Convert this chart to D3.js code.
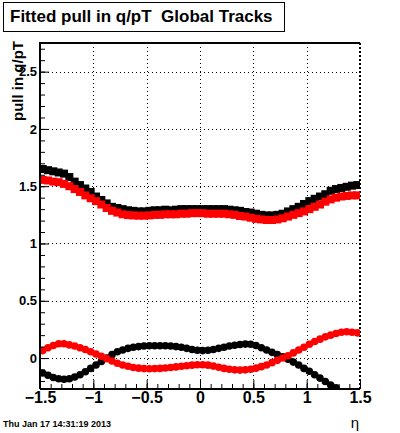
<!DOCTYPE html>
<html>
<head>
<meta charset="utf-8">
<script src="https://cdn.jsdelivr.net/npm/d3@7"></script>
<style>
  body { margin: 0; background: #fff; }
  text { font-family: "Liberation Sans", Arial, sans-serif; }
</style>
</head>
<body>
<div class="container"></div>
<script>
// eta bin centres (60 bins of 0.05 from -1.5 to 1.5)
const eta = d3.range(60).map(i => +(-1.475 + 0.05 * i).toFixed(3));

// upper curves (full squares): black and red
const meanBlack = [1.65, 1.64, 1.63, 1.62, 1.61, 1.58, 1.54, 1.51, 1.48, 1.45,
  1.41, 1.38, 1.35, 1.32, 1.31, 1.30, 1.29, 1.285, 1.28, 1.28,
  1.285, 1.29, 1.29, 1.295, 1.29, 1.295, 1.30, 1.30, 1.30, 1.30,
  1.30, 1.30, 1.30, 1.30, 1.30, 1.295, 1.29, 1.285, 1.275, 1.27,
  1.26, 1.25, 1.245, 1.245, 1.25, 1.26, 1.28, 1.30, 1.32, 1.345,
  1.37, 1.39, 1.41, 1.43, 1.46, 1.475, 1.485, 1.495, 1.505, 1.51];
const meanRed = [1.555, 1.55, 1.54, 1.535, 1.52, 1.50, 1.475, 1.45, 1.42, 1.395,
  1.37, 1.34, 1.31, 1.285, 1.27, 1.255, 1.248, 1.245, 1.243, 1.243,
  1.245, 1.25, 1.25, 1.255, 1.255, 1.255, 1.26, 1.26, 1.265, 1.265,
  1.265, 1.26, 1.26, 1.26, 1.26, 1.255, 1.25, 1.24, 1.235, 1.225,
  1.215, 1.21, 1.205, 1.205, 1.21, 1.22, 1.235, 1.25, 1.265, 1.28,
  1.30, 1.32, 1.34, 1.365, 1.385, 1.40, 1.41, 1.415, 1.42, 1.42];

// lower curves (full circles): black and red
const offBlack = [-0.13, -0.15, -0.17, -0.18, -0.185, -0.18, -0.165, -0.145, -0.12, -0.09,
  -0.06, -0.03, 0.0, 0.03, 0.055, 0.07, 0.085, 0.095, 0.10, 0.105,
  0.107, 0.108, 0.108, 0.107, 0.105, 0.10, 0.095, 0.085, 0.075, 0.068,
  0.065, 0.068, 0.075, 0.085, 0.095, 0.105, 0.112, 0.118, 0.122, 0.12,
  0.11, 0.09, 0.07, 0.05, 0.03, 0.01, -0.01, -0.035, -0.06, -0.09,
  -0.115, -0.145, -0.175, -0.205, -0.235, -0.26];
const offRed = [0.065, 0.09, 0.11, 0.125, 0.125, 0.115, 0.105, 0.09, 0.075, 0.055,
  0.035, 0.015, -0.005, -0.025, -0.045, -0.06, -0.072, -0.082, -0.088, -0.092,
  -0.093, -0.092, -0.09, -0.087, -0.082, -0.077, -0.072, -0.067, -0.062, -0.058,
  -0.058, -0.062, -0.07, -0.08, -0.09, -0.098, -0.103, -0.105, -0.103, -0.097,
  -0.088, -0.075, -0.06, -0.04, -0.02, 0.0, 0.02, 0.045, 0.07, 0.095,
  0.12, 0.145, 0.165, 0.185, 0.2, 0.215, 0.225, 0.23, 0.225, 0.22];

const xTicks = [-1.5, -1, -0.5, 0, 0.5, 1, 1.5];
const yTicks = [0, 0.5, 1, 1.5, 2, 2.5];

const width = 400;
const height = 433;
const frame = { left: 40, right: 360, top: 43, bottom: 389 };

const x = d3.scaleLinear().domain([-1.5, 1.5]).range([frame.left, frame.right]);
const y = d3.scaleLinear().domain([-0.27, 2.75]).range([frame.bottom, frame.top]);

const svg = d3.select('.container')
  .append('svg')
  .attr('width', width)
  .attr('height', height)
  .style('display', 'block');

svg.append('rect').attr('width', width).attr('height', height).attr('fill', '#fff');

svg.append('clipPath').attr('id', 'clip')
  .append('rect')
  .attr('x', frame.left).attr('y', frame.top)
  .attr('width', frame.right - frame.left)
  .attr('height', frame.bottom - frame.top);

// grid
const grid = svg.append('g').attr('stroke', '#000').attr('stroke-width', 1)
  .attr('stroke-dasharray', '1,3');
grid.selectAll('.gx').data(xTicks.filter(d => d > -1.5 && d < 1.5)).enter()
  .append('line')
  .attr('x1', d => Math.round(x(d)) + 0.5).attr('x2', d => Math.round(x(d)) + 0.5)
  .attr('y1', frame.top).attr('y2', frame.bottom);
grid.selectAll('.gy').data(yTicks).enter()
  .append('line')
  .attr('x1', frame.left).attr('x2', frame.right)
  .attr('y1', d => Math.round(y(d)) + 0.5).attr('y2', d => Math.round(y(d)) + 0.5);

// right edge (grid at 1.5)
svg.append('line')
  .attr('x1', frame.right).attr('x2', frame.right)
  .attr('y1', frame.top).attr('y2', frame.bottom)
  .attr('stroke', '#000').attr('stroke-width', 2).attr('stroke-dasharray', '2,2');

// markers
const plot = svg.append('g').attr('clip-path', 'url(#clip)');
const sq = 8;

function squares(values, color) {
  plot.append('g').selectAll('rect')
    .data(values)
    .enter()
    .append('rect')
    .attr('x', (d, i) => x(eta[i]) - sq / 2)
    .attr('y', d => y(d) - sq / 2)
    .attr('width', sq)
    .attr('height', sq)
    .attr('fill', color);
}

function circles(values, color) {
  plot.append('g').selectAll('circle')
    .data(values)
    .enter()
    .append('circle')
    .attr('cx', (d, i) => x(eta[i]))
    .attr('cy', d => y(d))
    .attr('r', 3.8)
    .attr('fill', color);
}

squares(meanBlack, '#000');
squares(meanRed, '#ff0000');
circles(offBlack, '#000');
circles(offRed, '#ff0000');

// axes
const xAxis = d3.axisBottom(x).tickValues(xTicks).tickSize(-9).tickFormat(d3.format('~g'));
const yAxis = d3.axisLeft(y).tickValues(yTicks).tickSize(-9).tickFormat(d3.format('~g'));
const xMinor = d3.axisBottom(x).tickValues(d3.range(-15, 16).map(d => d / 10)).tickSize(-5).tickFormat('');
const yMinor = d3.axisLeft(y).tickValues(d3.range(-2, 28).map(d => d / 10)).tickSize(-5).tickFormat('');

function styleAxis(g) {
  g.select('.domain').remove();
  g.selectAll('.tick line').attr('stroke', '#000').attr('stroke-width', 1);
  g.selectAll('.tick text').attr('fill', '#000').attr('font-weight', 'bold')
    .attr('font-family', '"Liberation Sans", Arial, sans-serif');
}

svg.append('g').attr('transform', `translate(0,${frame.bottom})`).call(xMinor).call(styleAxis);
svg.append('g').attr('transform', `translate(${frame.left},0)`).call(yMinor).call(styleAxis);

svg.append('g').attr('transform', `translate(0,${frame.bottom})`).call(xAxis).call(styleAxis)
  .selectAll('.tick text').attr('y', 3).attr('dy', '0.71em').attr('font-size', 16);
svg.append('g').attr('transform', `translate(${frame.left},0)`).call(yAxis).call(styleAxis)
  .selectAll('.tick text').attr('x', -3).attr('font-size', 13);

// frame lines
svg.append('path')
  .attr('d', `M${frame.left},${frame.bottom}V${frame.top}H${frame.right}M${frame.left},${frame.bottom}H${frame.right}`)
  .attr('fill', 'none').attr('stroke', '#000').attr('stroke-width', 2);

// axis titles
svg.append('text')
  .attr('transform', `translate(23,41) rotate(-90)`)
  .attr('text-anchor', 'end')
  .attr('font-size', 15)
  .attr('font-weight', 'bold')
  .text('pull in q/pT');

svg.append('text')
  .attr('x', 355).attr('y', 428)
  .attr('text-anchor', 'middle')
  .attr('font-size', 15)
  .attr('font-family', '"DejaVu Sans", sans-serif')
  .text('η');

// title box
svg.append('rect')
  .attr('x', 3.5).attr('y', 2.5).attr('width', 281).attr('height', 29)
  .attr('fill', '#fff').attr('stroke', '#000').attr('stroke-width', 1);
svg.append('text')
  .attr('x', 10).attr('y', 22)
  .attr('font-size', 17)
  .attr('font-weight', 'bold')
  .attr('xml:space', 'preserve')
  .style('white-space', 'pre')
  .text('Fitted pull in q/pT  Global Tracks');

// date stamp
svg.append('text')
  .attr('x', 3).attr('y', 427)
  .attr('font-size', 9)
  .attr('font-weight', 'bold')
  .text('Thu Jan 17 14:31:19 2013');
</script>
</body>
</html>
